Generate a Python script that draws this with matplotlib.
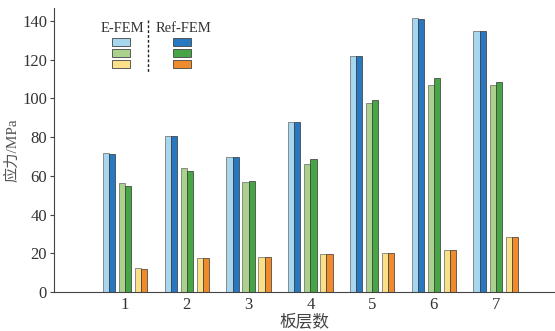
import numpy as np
import matplotlib.pyplot as plt
from matplotlib.patches import Rectangle
from matplotlib.lines import Line2D

plt.rcParams['font.family'] = ['Liberation Serif', 'Noto Sans CJK SC']

capas = [1, 2, 3, 4, 5, 6, 7]
azul_efem = [71.6, 80.6, 69.5, 88.0, 121.8, 141.3, 135.0]
azul_ref = [71.5, 80.3, 69.5, 88.0, 121.8, 140.8, 134.8]
verde_efem = [56.3, 64.2, 57.0, 66.0, 97.5, 106.8, 106.8]
verde_ref = [54.7, 62.3, 57.5, 68.5, 99.2, 110.4, 108.6]
amar_efem = [12.4, 17.5, 18.0, 19.5, 20.0, 21.5, 28.2]
amar_ref = [11.9, 17.3, 18.2, 19.6, 20.0, 21.5, 28.2]

c_claro = ['#a7d6ef', '#abd28c', '#fbe08a']
c_oscuro = ['#2778c0', '#47a545', '#ee8b2d']

fig = plt.figure(figsize=(5.55, 3.31), dpi=100)
ax = fig.add_axes([0.0973, 0.118, 0.9027, 0.858])

x = np.array(capas, dtype=float)
w = 0.1
offs = [-0.26, 0.0, 0.26]
pares = [(azul_efem, azul_ref), (verde_efem, verde_ref), (amar_efem, amar_ref)]
for i, (e, r) in enumerate(pares):
    ax.bar(x + offs[i] - w / 2, e, w, color=c_claro[i], edgecolor='#666666', linewidth=0.5)
    ax.bar(x + offs[i] + w / 2, r, w, color=c_oscuro[i], edgecolor='#333333', linewidth=0.5)

ax.set_xlim(-0.15, 7.96)
ax.set_ylim(0, 146.7)
ax.set_yticks(np.arange(0, 141, 20))
ax.set_xticks(capas)
ax.tick_params(axis='x', length=0, labelsize=12, pad=4, labelcolor='#333333')
ax.tick_params(axis='y', direction='out', length=3, labelsize=12, pad=2,
               color='#444444', labelcolor='#333333')
for s in ['top', 'right']:
    ax.spines[s].set_visible(False)
for s in ['left', 'bottom']:
    ax.spines[s].set_color('#444444')
    ax.spines[s].set_linewidth(0.8)

ax.set_ylabel('应力/MPa', fontsize=11, labelpad=2, color='#555555')
ax.set_xlabel('板层数', fontsize=12, labelpad=1, color='#444444')

# leyenda manual
tr = ax.transAxes
def px(xp, yp):
    return ((xp - 54) / 501, (292 - yp) / 284)

ax.text(*px(122, 29), 'E-FEM', transform=tr, ha='center', va='center', fontsize=10.5, color='#333333')
ax.text(*px(183, 29), 'Ref-FEM', transform=tr, ha='center', va='center', fontsize=10.5, color='#333333')
x0, y0 = px(148, 20)
x1, y1 = px(148, 73)
ax.add_line(Line2D([x0, x1], [y0, y1], transform=tr, color='#222222', linestyle=(0, (2, 1.5)), linewidth=1))
for i, yp in enumerate([42, 53, 64]):
    for xc, col in [(121, c_claro[i]), (182, c_oscuro[i])]:
        a, b = px(xc - 9, yp + 4)
        ax.add_patch(Rectangle((a, b), 18 / 501, 8 / 284, transform=tr,
                               facecolor=col, edgecolor='#444444', linewidth=0.6))

fig.savefig('out.png', dpi=100)
